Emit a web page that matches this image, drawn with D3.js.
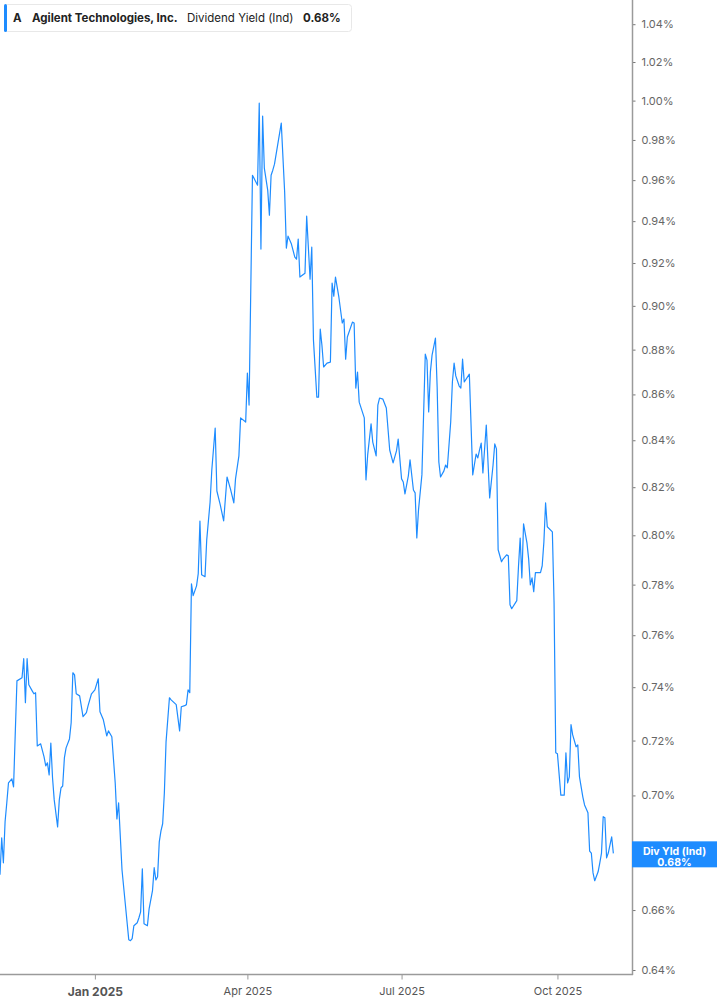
<!DOCTYPE html>
<html>
<head>
<meta charset="utf-8">
<script src="https://cdn.jsdelivr.net/npm/d3@7"></script>
<style>
  html, body { margin: 0; padding: 0; background: #fff; }
  svg { display: block; font-family: Inter, "Noto Sans", sans-serif; }
</style>
</head>
<body>
<div id="chart"></div>
<script>
const ticker = "A";
const company = "Agilent Technologies, Inc.";
const metric = "Dividend Yield (Ind)";

const dates = [
  "2024-11-06","2024-11-07","2024-11-08","2024-11-09","2024-11-10","2024-11-11","2024-11-13","2024-11-14","2024-11-16","2024-11-19",
  "2024-11-20","2024-11-21","2024-11-22","2024-11-23","2024-11-25","2024-11-26","2024-11-27","2024-11-28","2024-11-30","2024-12-02",
  "2024-12-03","2024-12-04","2024-12-05","2024-12-06","2024-12-07","2024-12-08","2024-12-10","2024-12-11","2024-12-12","2024-12-13",
  "2024-12-14","2024-12-15","2024-12-17","2024-12-18","2024-12-19","2024-12-20","2024-12-21","2024-12-23","2024-12-25","2024-12-27",
  "2024-12-28","2024-12-30","2025-01-01","2025-01-03","2025-01-04","2025-01-06","2025-01-08","2025-01-09","2025-01-11","2025-01-13",
  "2025-01-14","2025-01-15","2025-01-17","2025-01-19","2025-01-21","2025-01-22","2025-01-23","2025-01-24","2025-01-26","2025-01-27",
  "2025-01-28","2025-01-29","2025-01-30","2025-02-01","2025-02-02","2025-02-04","2025-02-05","2025-02-06","2025-02-07","2025-02-08",
  "2025-02-09","2025-02-10","2025-02-11","2025-02-12","2025-02-14","2025-02-15","2025-02-18","2025-02-20","2025-02-21","2025-02-23",
  "2025-02-24","2025-02-25","2025-02-26","2025-02-27","2025-02-28","2025-03-02","2025-03-03","2025-03-04","2025-03-05","2025-03-07",
  "2025-03-08","2025-03-10","2025-03-11","2025-03-13","2025-03-14","2025-03-16","2025-03-18","2025-03-20","2025-03-22","2025-03-24",
  "2025-03-25","2025-03-27","2025-03-28","2025-03-31","2025-04-01","2025-04-02","2025-04-04","2025-04-07","2025-04-08","2025-04-09",
  "2025-04-10","2025-04-11","2025-04-13","2025-04-14","2025-04-15","2025-04-16","2025-04-17","2025-04-21","2025-04-23","2025-04-24",
  "2025-04-25","2025-04-27","2025-04-29","2025-04-30","2025-05-01","2025-05-02","2025-05-05","2025-05-06","2025-05-08","2025-05-09",
  "2025-05-10","2025-05-12","2025-05-13","2025-05-14","2025-05-15","2025-05-16","2025-05-18","2025-05-20","2025-05-21","2025-05-22",
  "2025-05-23","2025-05-25","2025-05-27","2025-05-28","2025-05-29","2025-05-30","2025-06-02","2025-06-03","2025-06-04","2025-06-05",
  "2025-06-06","2025-06-09","2025-06-10","2025-06-11","2025-06-13","2025-06-14","2025-06-16","2025-06-17","2025-06-18","2025-06-20",
  "2025-06-22","2025-06-24","2025-06-26","2025-06-28","2025-06-29","2025-07-01","2025-07-02","2025-07-03","2025-07-05","2025-07-06",
  "2025-07-08","2025-07-09","2025-07-10","2025-07-11","2025-07-13","2025-07-15","2025-07-16","2025-07-17","2025-07-18","2025-07-19",
  "2025-07-21","2025-07-22","2025-07-23","2025-07-24","2025-07-26","2025-07-27","2025-07-28","2025-07-30","2025-07-31","2025-08-01",
  "2025-08-02","2025-08-04","2025-08-05","2025-08-06","2025-08-07","2025-08-10","2025-08-12","2025-08-14","2025-08-15","2025-08-16",
  "2025-08-17","2025-08-18","2025-08-20","2025-08-22","2025-08-24","2025-08-25","2025-08-26","2025-08-27","2025-08-29","2025-08-30",
  "2025-09-01","2025-09-02","2025-09-03","2025-09-04","2025-09-07","2025-09-08","2025-09-09","2025-09-10","2025-09-11","2025-09-13",
  "2025-09-14","2025-09-15","2025-09-16","2025-09-17","2025-09-18","2025-09-21","2025-09-22","2025-09-23","2025-09-24","2025-09-25",
  "2025-09-28","2025-09-29","2025-09-30","2025-10-01","2025-10-03","2025-10-05","2025-10-06","2025-10-07","2025-10-08","2025-10-09",
  "2025-10-10","2025-10-12","2025-10-13","2025-10-14","2025-10-16","2025-10-17","2025-10-19","2025-10-20","2025-10-21","2025-10-22",
  "2025-10-23","2025-10-25","2025-10-26","2025-10-27","2025-10-28","2025-10-29","2025-10-30","2025-10-31","2025-11-02","2025-11-03"
];

// dividend yield, percent
const yields = [
  0.6721,0.6849,0.6762,0.6906,0.6973,0.7045,0.7060,0.7031,0.7424,0.7436,
  0.7509,0.7341,0.7509,0.7409,0.7386,0.7375,0.7379,0.7180,0.7188,0.7140,
  0.7107,0.7118,0.7074,0.7191,0.7064,0.6984,0.6888,0.6984,0.7027,0.7034,
  0.7136,0.7173,0.7206,0.7266,0.7455,0.7447,0.7375,0.7367,0.7289,0.7304,
  0.7330,0.7375,0.7390,0.7432,0.7307,0.7277,0.7217,0.7236,0.7214,0.7045,
  0.6916,0.6973,0.6738,0.6618,0.6500,0.6497,0.6504,0.6547,0.6557,0.6574,
  0.6594,0.6741,0.6554,0.6547,0.6604,0.6666,0.6745,0.6703,0.6714,0.6835,
  0.6874,0.6899,0.7009,0.7195,0.7360,0.7352,0.7334,0.7236,0.7326,0.7330,
  0.7334,0.7390,0.7379,0.7803,0.7756,0.7795,0.7844,0.8059,0.7840,0.7832,
  0.7981,0.8138,0.8273,0.8453,0.8184,0.8126,0.8059,0.8243,0.8193,0.8134,
  0.8235,0.8333,0.8497,0.8479,0.8695,0.8553,0.9624,0.9575,0.9987,0.9266,
  0.9921,0.9659,0.9551,0.9429,0.9624,0.9649,0.9679,0.9885,0.9541,0.9271,
  0.9328,0.9290,0.9228,0.9218,0.9314,0.9134,0.9152,0.9424,0.9124,0.9275,
  0.8843,0.8588,0.8588,0.8893,0.8820,0.8722,0.8739,0.8744,0.9106,0.9045,
  0.9134,0.9040,0.8921,0.8939,0.8757,0.8857,0.8925,0.8921,0.8628,0.8699,
  0.8566,0.8497,0.8231,0.8337,0.8471,0.8392,0.8333,0.8553,0.8584,0.8579,
  0.8540,0.8358,0.8303,0.8354,0.8405,0.8235,0.8222,0.8172,0.8248,0.8316,
  0.8188,0.8176,0.7989,0.8105,0.8252,0.8780,0.8753,0.8523,0.8699,0.8775,
  0.8852,0.8633,0.8307,0.8243,0.8269,0.8294,0.8282,0.8479,0.8655,0.8739,
  0.8682,0.8637,0.8628,0.8757,0.8655,0.8690,0.8252,0.8341,0.8324,0.8358,
  0.8388,0.8260,0.8466,0.8155,0.8294,0.8384,0.8363,0.7941,0.7892,0.7904,
  0.7920,0.7916,0.7720,0.7704,0.7736,0.7872,0.7989,0.7827,0.8047,0.7969,
  0.7904,0.7799,0.7827,0.7772,0.7848,0.7848,0.7876,0.7973,0.8134,0.8035,
  0.8014,0.7728,0.7155,0.7151,0.7001,0.7001,0.7155,0.7045,0.7067,0.7259,
  0.7221,0.7177,0.7184,0.7067,0.6994,0.6966,0.6938,0.6803,0.6796,0.6727,
  0.6700,0.6731,0.6762,0.6796,0.6924,0.6920,0.6779,0.6796,0.6853,0.6795
];

const yTicks = [0.64, 0.66, 0.68, 0.70, 0.72, 0.74, 0.76, 0.78, 0.80, 0.82, 0.84, 0.86, 0.88, 0.90, 0.92, 0.94, 0.96, 0.98, 1.00, 1.02, 1.04];
const xTicks = ["2025-01-01", "2025-04-01", "2025-07-01", "2025-10-01"];

const parse = d3.timeParse("%Y-%m-%d");
const data = dates.map((d, i) => ({ date: parse(d), value: yields[i] }));

const W = 717, H = 1005;
const plotW = 632, plotH = 974;
const blue = "#1e8cff";

const svg = d3.select("#chart").append("svg")
  .attr("width", W)
  .attr("height", H);

const x = d3.scaleTime()
  .domain([parse("2024-11-06"), parse("2025-11-14")])
  .range([0, plotW]);

const y = d3.scaleLog()
  .domain([0.64, 1.04])
  .range([970, 24.2]);

const last = data[data.length - 1];
const ly = y(last.value);

// line
const line = d3.line()
  .x(d => x(d.date))
  .y(d => y(d.value));

svg.append("path")
  .datum(data)
  .attr("fill", "none")
  .attr("stroke", blue)
  .attr("stroke-width", 1.2)
  .attr("stroke-linejoin", "round")
  .attr("d", line);

// right axis
const yAxis = svg.append("g")
  .attr("transform", `translate(${plotW + 0.5},0)`)
  .call(d3.axisRight(y).tickValues(yTicks).tickSize(3).tickPadding(6)
    .tickFormat(d => d.toFixed(2) + "%"));
yAxis.select(".domain").remove();
yAxis.selectAll(".tick line").attr("stroke", "#777");
yAxis.selectAll(".tick text")
  .attr("fill", "#666")
  .style("font-size", "11px")
  .style("font-family", "Inter, sans-serif");
// tick label hidden under the last-value badge
yAxis.selectAll(".tick text")
  .filter(d => Math.abs(y(d) - ly) < 14)
  .remove();

svg.append("line")
  .attr("x1", plotW + 0.5).attr("x2", plotW + 0.5)
  .attr("y1", 0).attr("y2", plotH + 1)
  .attr("stroke", "#9a9a9a")
  .attr("stroke-width", 1.5);

// bottom axis
const xAxis = svg.append("g")
  .attr("transform", `translate(0,${plotH + 0.5})`)
  .call(d3.axisBottom(x).tickValues(xTicks.map(parse)).tickSize(5).tickPadding(8)
    .tickFormat(d3.timeFormat("%b %Y")));
xAxis.select(".domain").remove();
xAxis.selectAll(".tick line").attr("stroke", "#999");
xAxis.selectAll(".tick text")
  .attr("fill", "#555")
  .style("font-size", d => d.getMonth() === 0 ? "12px" : "11px")
  .style("font-weight", d => d.getMonth() === 0 ? "700" : "400")
  .style("font-family", "Inter, sans-serif");

svg.append("line")
  .attr("x1", 0).attr("x2", plotW + 1)
  .attr("y1", plotH + 0.5).attr("y2", plotH + 0.5)
  .attr("stroke", "#9a9a9a")
  .attr("stroke-width", 1.5);

// last value label
const lab = svg.append("g").attr("transform", `translate(${plotW},${ly})`);
lab.append("rect")
  .attr("x", 0).attr("y", -12)
  .attr("width", W - plotW).attr("height", 26)
  .attr("fill", blue);
lab.append("text")
  .attr("x", (W - plotW) / 2).attr("y", 1.5)
  .attr("text-anchor", "middle")
  .attr("fill", "#fff")
  .style("font-size", "10.5px").style("font-weight", "700")
  .text("Div Yld (Ind)");
lab.append("text")
  .attr("x", (W - plotW) / 2).attr("y", 12.5)
  .attr("text-anchor", "middle")
  .attr("fill", "#fff")
  .style("font-size", "10.5px").style("font-weight", "700")
  .text(last.value.toFixed(2) + "%");

// legend
const leg = svg.append("g");
leg.append("rect")
  .attr("x", 4.5).attr("y", 4.5)
  .attr("width", 347).attr("height", 27)
  .attr("rx", 3)
  .attr("fill", "#fff")
  .attr("stroke", "#e8e8e8");
leg.append("rect")
  .attr("x", 4).attr("y", 4)
  .attr("width", 3).attr("height", 28)
  .attr("rx", 1.5)
  .attr("fill", blue);

const legText = [
  { t: ticker, x: 13, w: "700" },
  { t: company, x: 32, w: "700" },
  { t: metric, x: 187, w: "400" },
  { t: last.value.toFixed(2) + "%", x: 303, w: "700" }
];
leg.selectAll("text.leg")
  .data(legText)
  .join("text")
  .attr("class", "leg")
  .attr("x", d => d.x)
  .attr("y", 22)
  .attr("fill", "#222")
  .style("font-size", "11.5px")
  .style("font-weight", d => d.w)
  .text(d => d.t);
</script>
</body>
</html>
